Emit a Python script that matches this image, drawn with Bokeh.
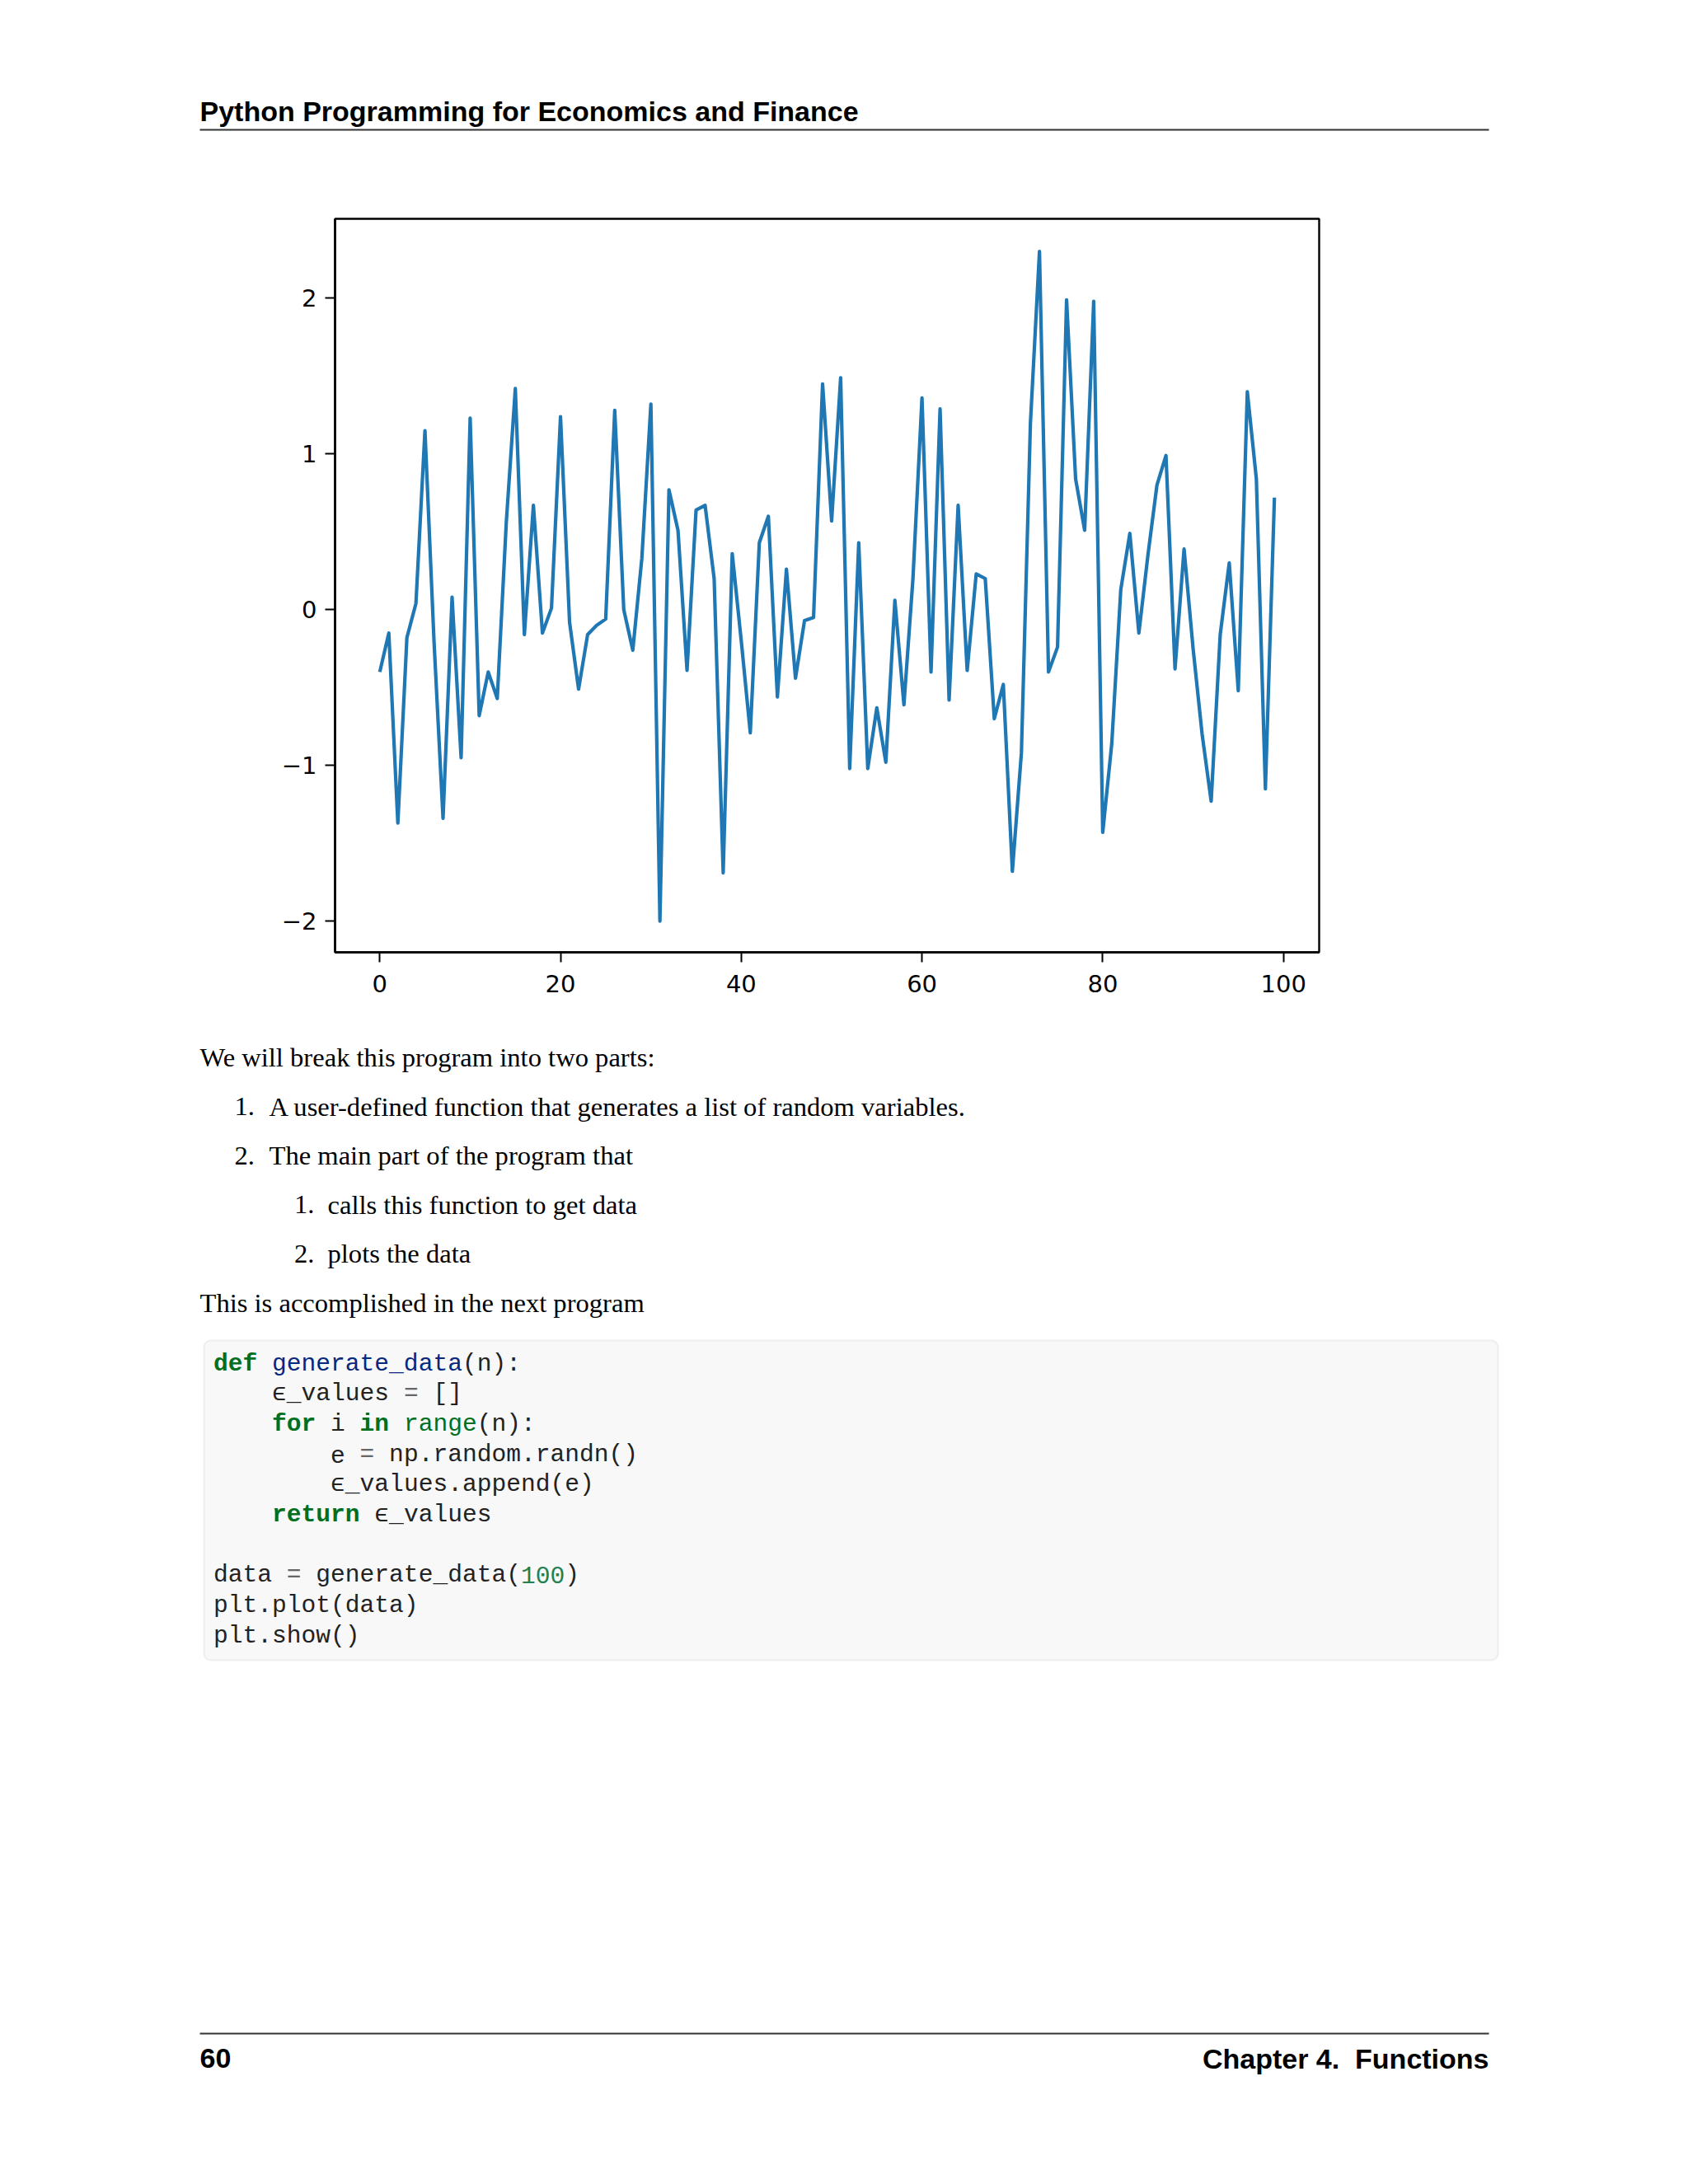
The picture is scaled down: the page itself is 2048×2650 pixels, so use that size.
from bokeh.plotting import figure
from bokeh.layouts import column
from bokeh.models import Range1d, FixedTicker, BoxAnnotation
from bokeh.core.properties import value
from bokeh.embed import file_html
from bokeh.resources import INLINE

# ---------------- data ----------------
x_index = list(range(100))
values = [
    -0.40, -0.15, -1.37, -0.18, 0.04, 1.15, -0.20, -1.34, 0.08, -0.95,
    1.23, -0.68, -0.40, -0.57, 0.56, 1.42, -0.16, 0.67, -0.15, 0.01,
    1.24, -0.08, -0.51, -0.16, -0.10, -0.06, 1.28, 0.00, -0.26, 0.33,
    1.32, -2.00, 0.77, 0.51, -0.39, 0.64, 0.67, 0.20, -1.69, 0.36,
    -0.20, -0.79, 0.43, 0.60, -0.56, 0.26, -0.44, -0.07, -0.05, 1.45,
    0.57, 1.49, -1.02, 0.43, -1.02, -0.63, -0.98, 0.06, -0.61, 0.20,
    1.36, -0.40, 1.29, -0.58, 0.67, -0.39, 0.23, 0.20, -0.70, -0.48,
    -1.68, -0.92, 1.20, 2.30, -0.40, -0.24, 1.99, 0.84, 0.51, 1.98,
    -1.43, -0.86, 0.13, 0.49, -0.15, 0.35, 0.80, 0.99, -0.38, 0.39,
    -0.25, -0.80, -1.23, -0.16, 0.30, -0.52, 1.40, 0.84, -1.15, 0.72,
]
x_ticks = [0, 20, 40, 60, 80, 100]
y_ticks = [-2, -1, 0, 1, 2]
y_tick_labels = {-2: "\u22122", -1: "\u22121", 0: "0", 1: "1", 2: "2"}

header_title = "Python Programming for Economics and Finance"
footer_page = "60"
footer_chapter = "Chapter 4.\u00a0 Functions"

# (indent level, number label, text)
body_items = [
    (0, "", "We will break this program into two parts:"),
    (1, "1.", "A user-defined function that generates a list of random variables."),
    (1, "2.", "The main part of the program that"),
    (2, "1.", "calls this function to get data"),
    (2, "2.", "plots the data"),
    (0, "", "This is accomplished in the next program"),
]

# code tokens: (line, column, text, kind)
code_tokens = [
    (0, 0, "def", "kw"), (0, 4, "generate_data", "fn"), (0, 17, "(n):", "tx"),
    (1, 4, "\u03f5_values", "tx"), (1, 13, "=", "op"), (1, 15, "[]", "tx"),
    (2, 4, "for", "kw"), (2, 8, "i", "tx"), (2, 10, "in", "kw"), (2, 13, "range", "bi"), (2, 18, "(n):", "tx"),
    (3, 8, "e", "tx"), (3, 10, "=", "op"), (3, 12, "np.random.randn()", "tx"),
    (4, 8, "\u03f5_values.append(e)", "tx"),
    (5, 4, "return", "kw"), (5, 11, "\u03f5_values", "tx"),
    (7, 0, "data", "tx"), (7, 5, "=", "op"), (7, 7, "generate_data(", "tx"), (7, 21, "100", "num"), (7, 24, ")", "tx"),
    (8, 0, "plt.plot(data)", "tx"),
    (9, 0, "plt.show()", "tx"),
]
code_colors = {"kw": "#007020", "fn": "#06287e", "tx": "#222222", "op": "#666666",
               "bi": "#007020", "num": "#208050"}

W = 2040


def page_fig(h):
    f = figure(width=W, height=h, x_range=Range1d(0, W), y_range=Range1d(0, h),
               output_backend="svg", toolbar_location=None, min_border=0,
               x_axis_type=None, y_axis_type=None, frame_align=False)
    f.outline_line_color = None
    f.background_fill_color = "white"
    f.border_fill_color = "white"
    return f


SANS = value("Liberation Sans")
SERIF = value("Liberation Serif")
MONO = value("Liberation Mono")

# ---------------- header (page y 0..200) ----------------
H1 = 200
top1 = 200
hdr = page_fig(H1)
hdr.text(x=[242], y=[top1 - 134], text=[header_title], text_font=SANS,
         text_font_size="34px", text_font_style="bold", text_color="black",
         text_baseline="alphabetic", text_align="left")
hdr.line(x=[242, 1806], y=[top1 - 157, top1 - 157], line_color="#333333", line_width=2)

# ---------------- chart (page y 200..1240) ----------------
p = figure(width=W, height=1040, x_range=Range1d(-4.95, 103.95), y_range=Range1d(-2.20, 2.51),
           output_backend="svg", toolbar_location=None, frame_align=False,
           min_border_left=406, min_border_right=W - 406 - 1194, min_border_top=65, min_border_bottom=85)
p.line(x_index, values, line_color="#1f77b4", line_width=4.2, line_join="round")
p.xgrid.visible = False
p.ygrid.visible = False
p.outline_line_color = "black"
p.outline_line_width = 2.4
p.background_fill_color = "white"
p.border_fill_color = "white"
p.xaxis.ticker = FixedTicker(ticks=x_ticks)
p.yaxis.ticker = FixedTicker(ticks=y_ticks)
p.yaxis.major_label_overrides = y_tick_labels
for ax in p.axis:
    ax.minor_tick_line_color = None
    ax.major_tick_in = 0
    ax.major_tick_out = 12
    ax.major_tick_line_width = 2
    ax.major_tick_line_color = "black"
    ax.axis_line_color = "black"
    ax.axis_line_width = 2.4
    ax.major_label_text_font = "DejaVu Sans"
    ax.major_label_text_font_size = "29px"
    ax.major_label_text_color = "black"
p.xaxis.major_label_standoff = 15
p.yaxis.major_label_standoff = 10

# ---------------- body (page y 1240..2646) ----------------
H3 = 1406
top3 = 1240 + H3
body = page_fig(H3)

baselines = [1282.5, 1342.0, 1401.5, 1461.0, 1520.5, 1580.5]
num_x = {0: 242, 1: 284, 2: 356.5}
txt_x = {0: 242, 1: 326, 2: 397}
bx, by, bt = [], [], []
for (lvl, num, txt), bl in zip(body_items, baselines):
    if num:
        bx.append(num_x[lvl]); by.append(top3 - bl); bt.append(num)
    bx.append(txt_x[lvl]); by.append(top3 - bl); bt.append(txt)
body.text(x=bx, y=by, text=bt, text_font=SERIF, text_font_size="32.6px",
          text_color="black", text_baseline="alphabetic", text_align="left")

# code box
box = BoxAnnotation(left=247, right=1817, top=top3 - 1626, bottom=top3 - 2014,
                    fill_color="#f8f8f8", fill_alpha=1.0, line_color="#cfcfcf",
                    line_width=2, border_radius=8, level="underlay")
body.add_layout(box)

code_x0 = 258.5
code_fs = 29.6
char_w = 0.6 * code_fs
code_bl0 = 1654.0
code_dy = 36.7
for bold in (False, True):
    xs, ys, ts, cs = [], [], [], []
    for (ln, col, txt, kind) in code_tokens:
        if (kind == "kw") != bold:
            continue
        xs.append(code_x0 + col * char_w)
        ys.append(top3 - (code_bl0 + ln * code_dy))
        ts.append(txt)
        cs.append(code_colors[kind])
    body.text(x=xs, y=ys, text=ts, text_color=cs, text_font=MONO,
              text_font_size=f"{code_fs}px", text_font_style="bold" if bold else "normal",
              text_baseline="alphabetic", text_align="left")

# footer
body.line(x=[242, 1806], y=[top3 - 2467, top3 - 2467], line_color="#333333", line_width=2)
body.text(x=[242], y=[top3 - 2497], text=[footer_page], text_font=SANS, text_font_size="34px",
          text_font_style="bold", text_color="black", text_baseline="alphabetic", text_align="left")
body.text(x=[1806], y=[top3 - 2497], text=[footer_chapter], text_font=SANS, text_font_size="34px",
          text_font_style="bold", text_color="black", text_baseline="alphabetic", text_align="right")

layout = column(hdr, p, body, spacing=0)
open("out.html", "w").write(file_html(layout, INLINE))
